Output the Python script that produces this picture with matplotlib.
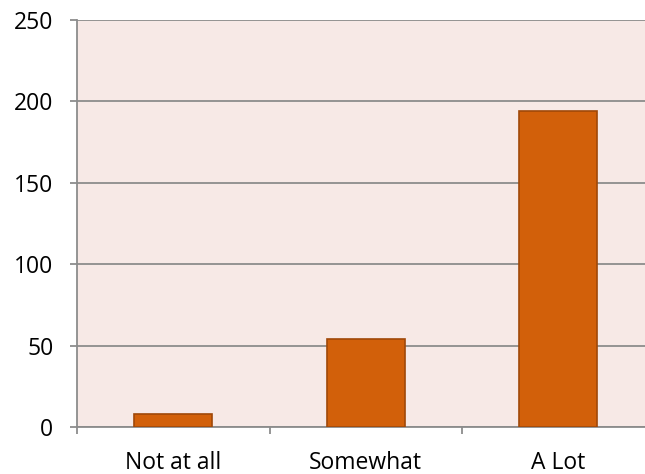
import matplotlib.pyplot as plt
import numpy as np

categories = ["Not at all", "Somewhat", "A Lot"]
counts = [8, 54, 194]
y_ticks = [0, 50, 100, 150, 200, 250]

plt.rcParams["font.family"] = ["Open Sans", "DejaVu Sans"]

fig = plt.figure(figsize=(6.45, 4.74), dpi=100)
ax = fig.add_axes([77 / 645, 1 - 427 / 474, 577.5 / 645, 407 / 474])
ax.set_facecolor("#F7E9E6")

x = np.arange(len(categories))
ax.bar(x, counts, width=0.405, color="#D2600A", edgecolor="#A04808", linewidth=1.2, zorder=3)

ax.set_xlim(-0.5, len(categories) - 0.5)
ax.set_ylim(0, 250)
ax.set_yticks(y_ticks)
ax.yaxis.grid(True, color="#8C8C8C", linewidth=1.3, zorder=1)
ax.set_axisbelow(True)

# category labels centred, ticks on the boundaries
ax.set_xticks(x)
ax.set_xticklabels(categories, fontsize=16.5)
ax.tick_params(axis="x", length=0, pad=17)
ax.set_xticks(np.arange(-0.5, len(categories)), minor=True)
ax.tick_params(axis="x", which="minor", length=5, width=1.3, color="#8C8C8C", direction="out")
ax.tick_params(axis="y", length=5, width=1.3, color="#8C8C8C", labelsize=16.5, pad=12)

for side in ("top", "right"):
    ax.spines[side].set_visible(False)
for side in ("left", "bottom"):
    ax.spines[side].set_color("#8C8C8C")
    ax.spines[side].set_linewidth(1.3)

fig.savefig("out.png", dpi=100)
